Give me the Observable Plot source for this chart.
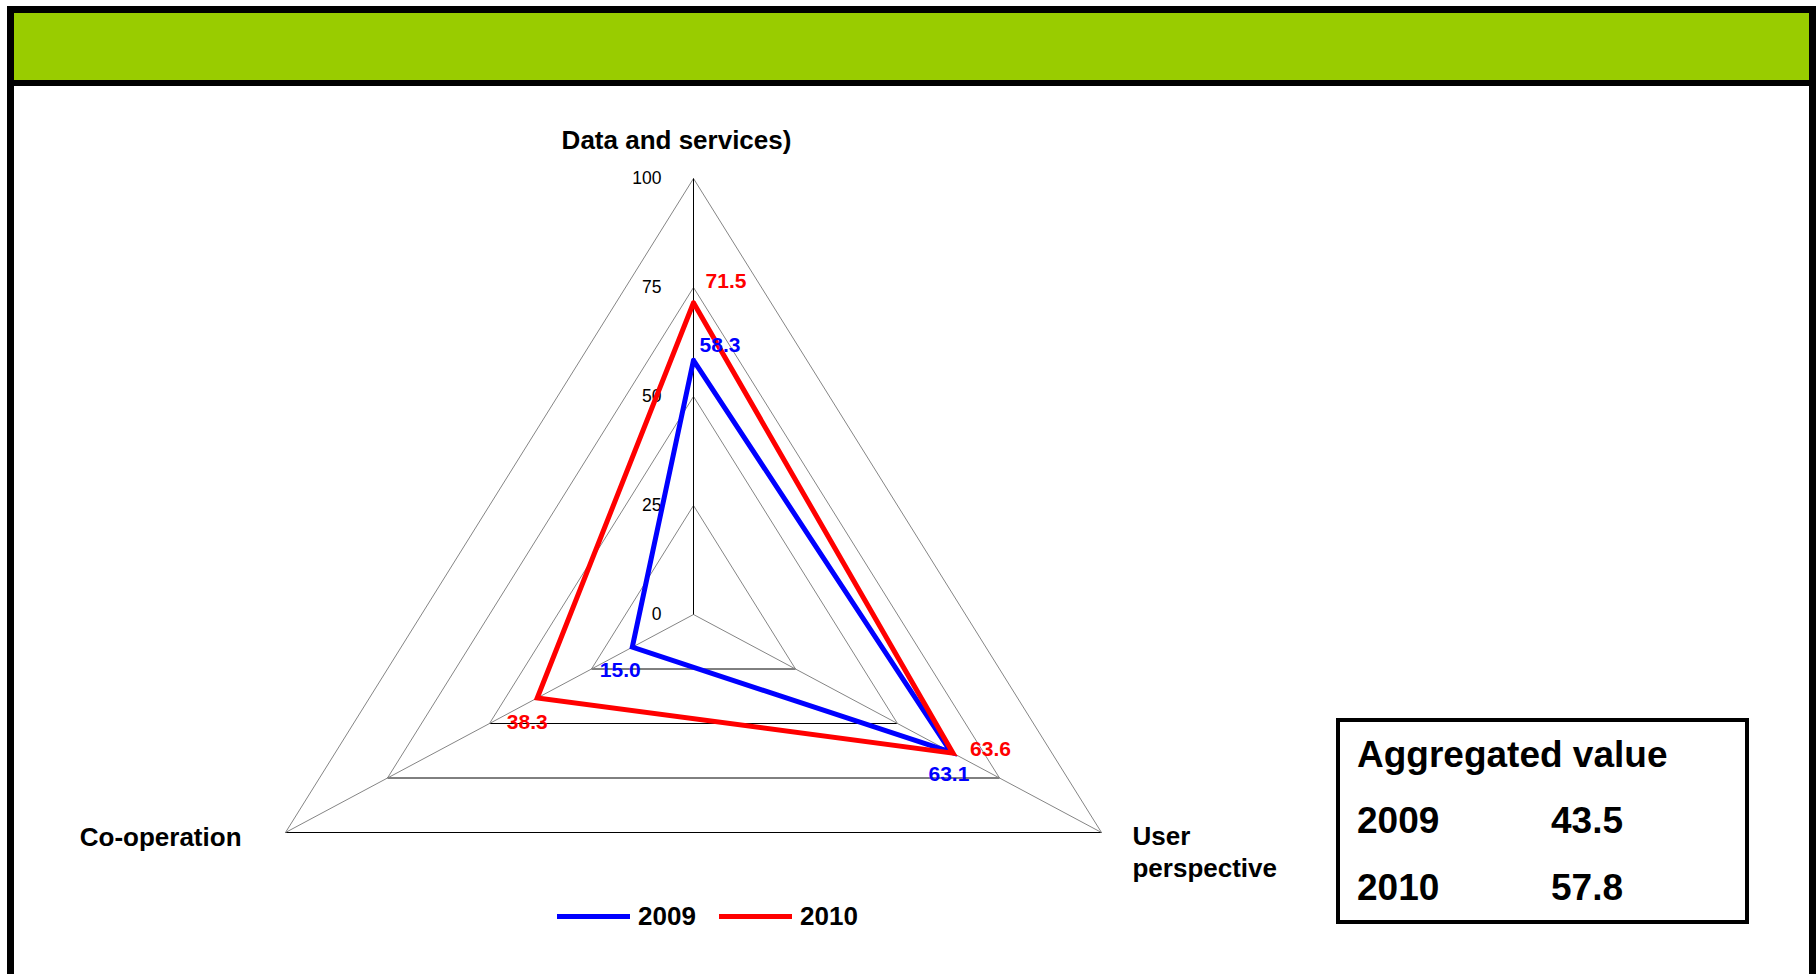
<!DOCTYPE html>
<html><head><meta charset="utf-8">
<script src="https://cdn.jsdelivr.net/npm/d3@7"></script>
<script src="https://cdn.jsdelivr.net/npm/@observablehq/plot@0.6"></script>
<style>
html,body{margin:0;padding:0;background:#fff;}
#page{position:relative;width:1819px;height:974px;overflow:hidden;font-family:"Liberation Sans",Arial,Helvetica,sans-serif;}
.blk{position:absolute;background:#000;}
#green{position:absolute;left:14px;top:13px;width:1795px;height:67px;background:#99cc00;}
#chart{position:absolute;left:0;top:0;}
.sw{position:absolute;height:5px;width:73px;}
.lt{position:absolute;font-weight:bold;font-size:26px;line-height:26px;white-space:nowrap;color:#000;}
#box{position:absolute;left:1336px;top:718px;width:413px;height:206px;border:4px solid #000;box-sizing:border-box;background:#fff;}
.bt{position:absolute;font-weight:bold;font-size:37px;line-height:37px;white-space:nowrap;color:#000;}
</style></head><body>
<div id="page">
  <div class="blk" style="left:7px;top:6px;width:1809px;height:7px;"></div>
  <div id="green"></div>
  <div class="blk" style="left:7px;top:80px;width:1809px;height:6px;"></div>
  <div class="blk" style="left:7px;top:6px;width:7px;height:968px;"></div>
  <div class="blk" style="left:1809px;top:6px;width:7px;height:968px;"></div>
</div>
<script>
// ---- data ----
const categories = ["Data and services)", "User perspective", "Co-operation"];
const years = ["2009", "2010"];
const values2009 = [58.3, 63.1, 15.0];
const values2010 = [71.5, 63.6, 38.3];
const tickValues = [0, 25, 50, 75, 100];
const aggregatedTitle = "Aggregated value";
const aggregatedValues = [43.5, 57.8];

// ---- styling / layout (not data) ----
const seriesColors = ["#0000ff", "#ff0000"];
const labelOffsets = [            // [dx, dy] per series per category
  [[26.5, -15], [-2, 22], [-12, 23]],
  [[32.5, -21], [37.5, -3.5], [-10, 24.5]]
];
const catLabelStyle = [
  {dx: -17, dy: -40, anchor: "middle", line: "middle"},
  {dx: 31, dy: -11, anchor: "start", line: "top"},
  {dx: -44, dy: 3, anchor: "end", line: "middle"}
];

const seriesValues = [values2009, values2010];
const ang = i => i * 2 * Math.PI / categories.length;
const px = (v, i) => v * Math.sin(ang(i));
const py = (v, i) => v * Math.cos(ang(i));

// polygon rows
const lineRows = [];
seriesValues.forEach((vals, s) => {
  [0, 1, 2, 0].forEach(i => lineRows.push({s, i, v: vals[i]}));
});
// grid edges
const edges = [];
tickValues.forEach(t => {
  for (let k = 0; k < 3; k++) {
    const k2 = (k + 1) % 3;
    edges.push({t, k, x1: px(t, k), y1: py(t, k), x2: px(t, k2), y2: py(t, k2)});
  }
});
const maxV = tickValues[tickValues.length - 1];
const spokes = categories.map((c, i) => ({i, x2: px(maxV, i), y2: py(maxV, i)}));
const labelRows = [];
seriesValues.forEach((vals, s) => vals.forEach((v, i) => labelRows.push({s, i, v})));

const textMarks = [];
labelRows.forEach(d => {
  textMarks.push(Plot.text([d], {
    x: r => px(r.v, r.i), y: r => py(r.v, r.i), text: r => r.v.toFixed(1),
    fill: seriesColors[d.s], fontSize: 21, fontWeight: "bold",
    textAnchor: "middle", lineAnchor: "middle",
    dx: labelOffsets[d.s][d.i][0], dy: labelOffsets[d.s][d.i][1]
  }));
});
const catMarks = categories.map((c, i) => Plot.text([i], {
  x: j => px(maxV, j), y: j => py(maxV, j),
  text: j => j === 1 ? "User\nperspective" : categories[j],
  fontSize: 26, fontWeight: "bold", fill: "#000", lineHeight: 1.25,
  textAnchor: catLabelStyle[i].anchor, lineAnchor: catLabelStyle[i].line,
  dx: catLabelStyle[i].dx, dy: catLabelStyle[i].dy
}));

const chart = Plot.plot({
  width: 1819, height: 974,
  marginTop: 0, marginRight: 0, marginBottom: 0, marginLeft: 0,
  x: {domain: [-100, 100], range: [221.9, 1164.1], axis: null},
  y: {domain: [-100, 100], range: [1050, 178], axis: null},
  style: {background: "transparent", fontFamily: '"Liberation Sans", Arial, sans-serif', overflow: "visible"},
  marks: [
    Plot.link(edges.filter(e => e.k !== 1), {x1: "x1", y1: "y1", x2: "x2", y2: "y2", stroke: "#858585", strokeWidth: 1}),
    Plot.link(edges.filter(e => e.k === 1), {x1: "x1", y1: "y1", x2: "x2", y2: "y2", stroke: "#000", strokeWidth: 1}),
    Plot.link(spokes.filter(d => d.i !== 0), {x1: 0, y1: 0, x2: "x2", y2: "y2", stroke: "#858585", strokeWidth: 1}),
    Plot.link(spokes.filter(d => d.i === 0), {x1: 0, y1: 0, x2: "x2", y2: "y2", stroke: "#000", strokeWidth: 1}),
    Plot.text(tickValues, {x: 0, y: t => t, text: t => String(t), textAnchor: "end", lineAnchor: "middle", dx: -32, fontSize: 17.5, fill: "#000"}),
    ...seriesValues.map((vals, s) => Plot.line(lineRows.filter(r => r.s === s), {
      x: r => px(r.v, r.i), y: r => py(r.v, r.i),
      stroke: seriesColors[s], strokeWidth: 5, strokeLinejoin: "miter", strokeMiterlimit: 10
    })),
    ...textMarks,
    ...catMarks
  ]
});
chart.id = "chart";
const page = document.getElementById("page");
page.appendChild(chart);

// legend
const swX = [557, 719], txX = [638, 800];
years.forEach((y, s) => {
  const sw = document.createElement("div");
  sw.className = "sw"; sw.style.left = swX[s] + "px"; sw.style.top = "914px"; sw.style.background = seriesColors[s];
  page.appendChild(sw);
  const t = document.createElement("div");
  t.className = "lt"; t.style.left = txX[s] + "px"; t.style.top = "903px"; t.textContent = y;
  page.appendChild(t);
});

// aggregated box
const box = document.createElement("div");
box.id = "box";
page.appendChild(box);
const addBT = (txt, left, top) => {
  const d = document.createElement("div");
  d.className = "bt"; d.style.left = left + "px"; d.style.top = top + "px"; d.textContent = txt;
  page.appendChild(d);
};
addBT(aggregatedTitle, 1357, 736);
const rowTops = [802, 869];
years.forEach((y, s) => {
  addBT(y, 1357, rowTops[s]);
  addBT(aggregatedValues[s].toFixed(1), 1551, rowTops[s]);
});
</script>
</body></html>
